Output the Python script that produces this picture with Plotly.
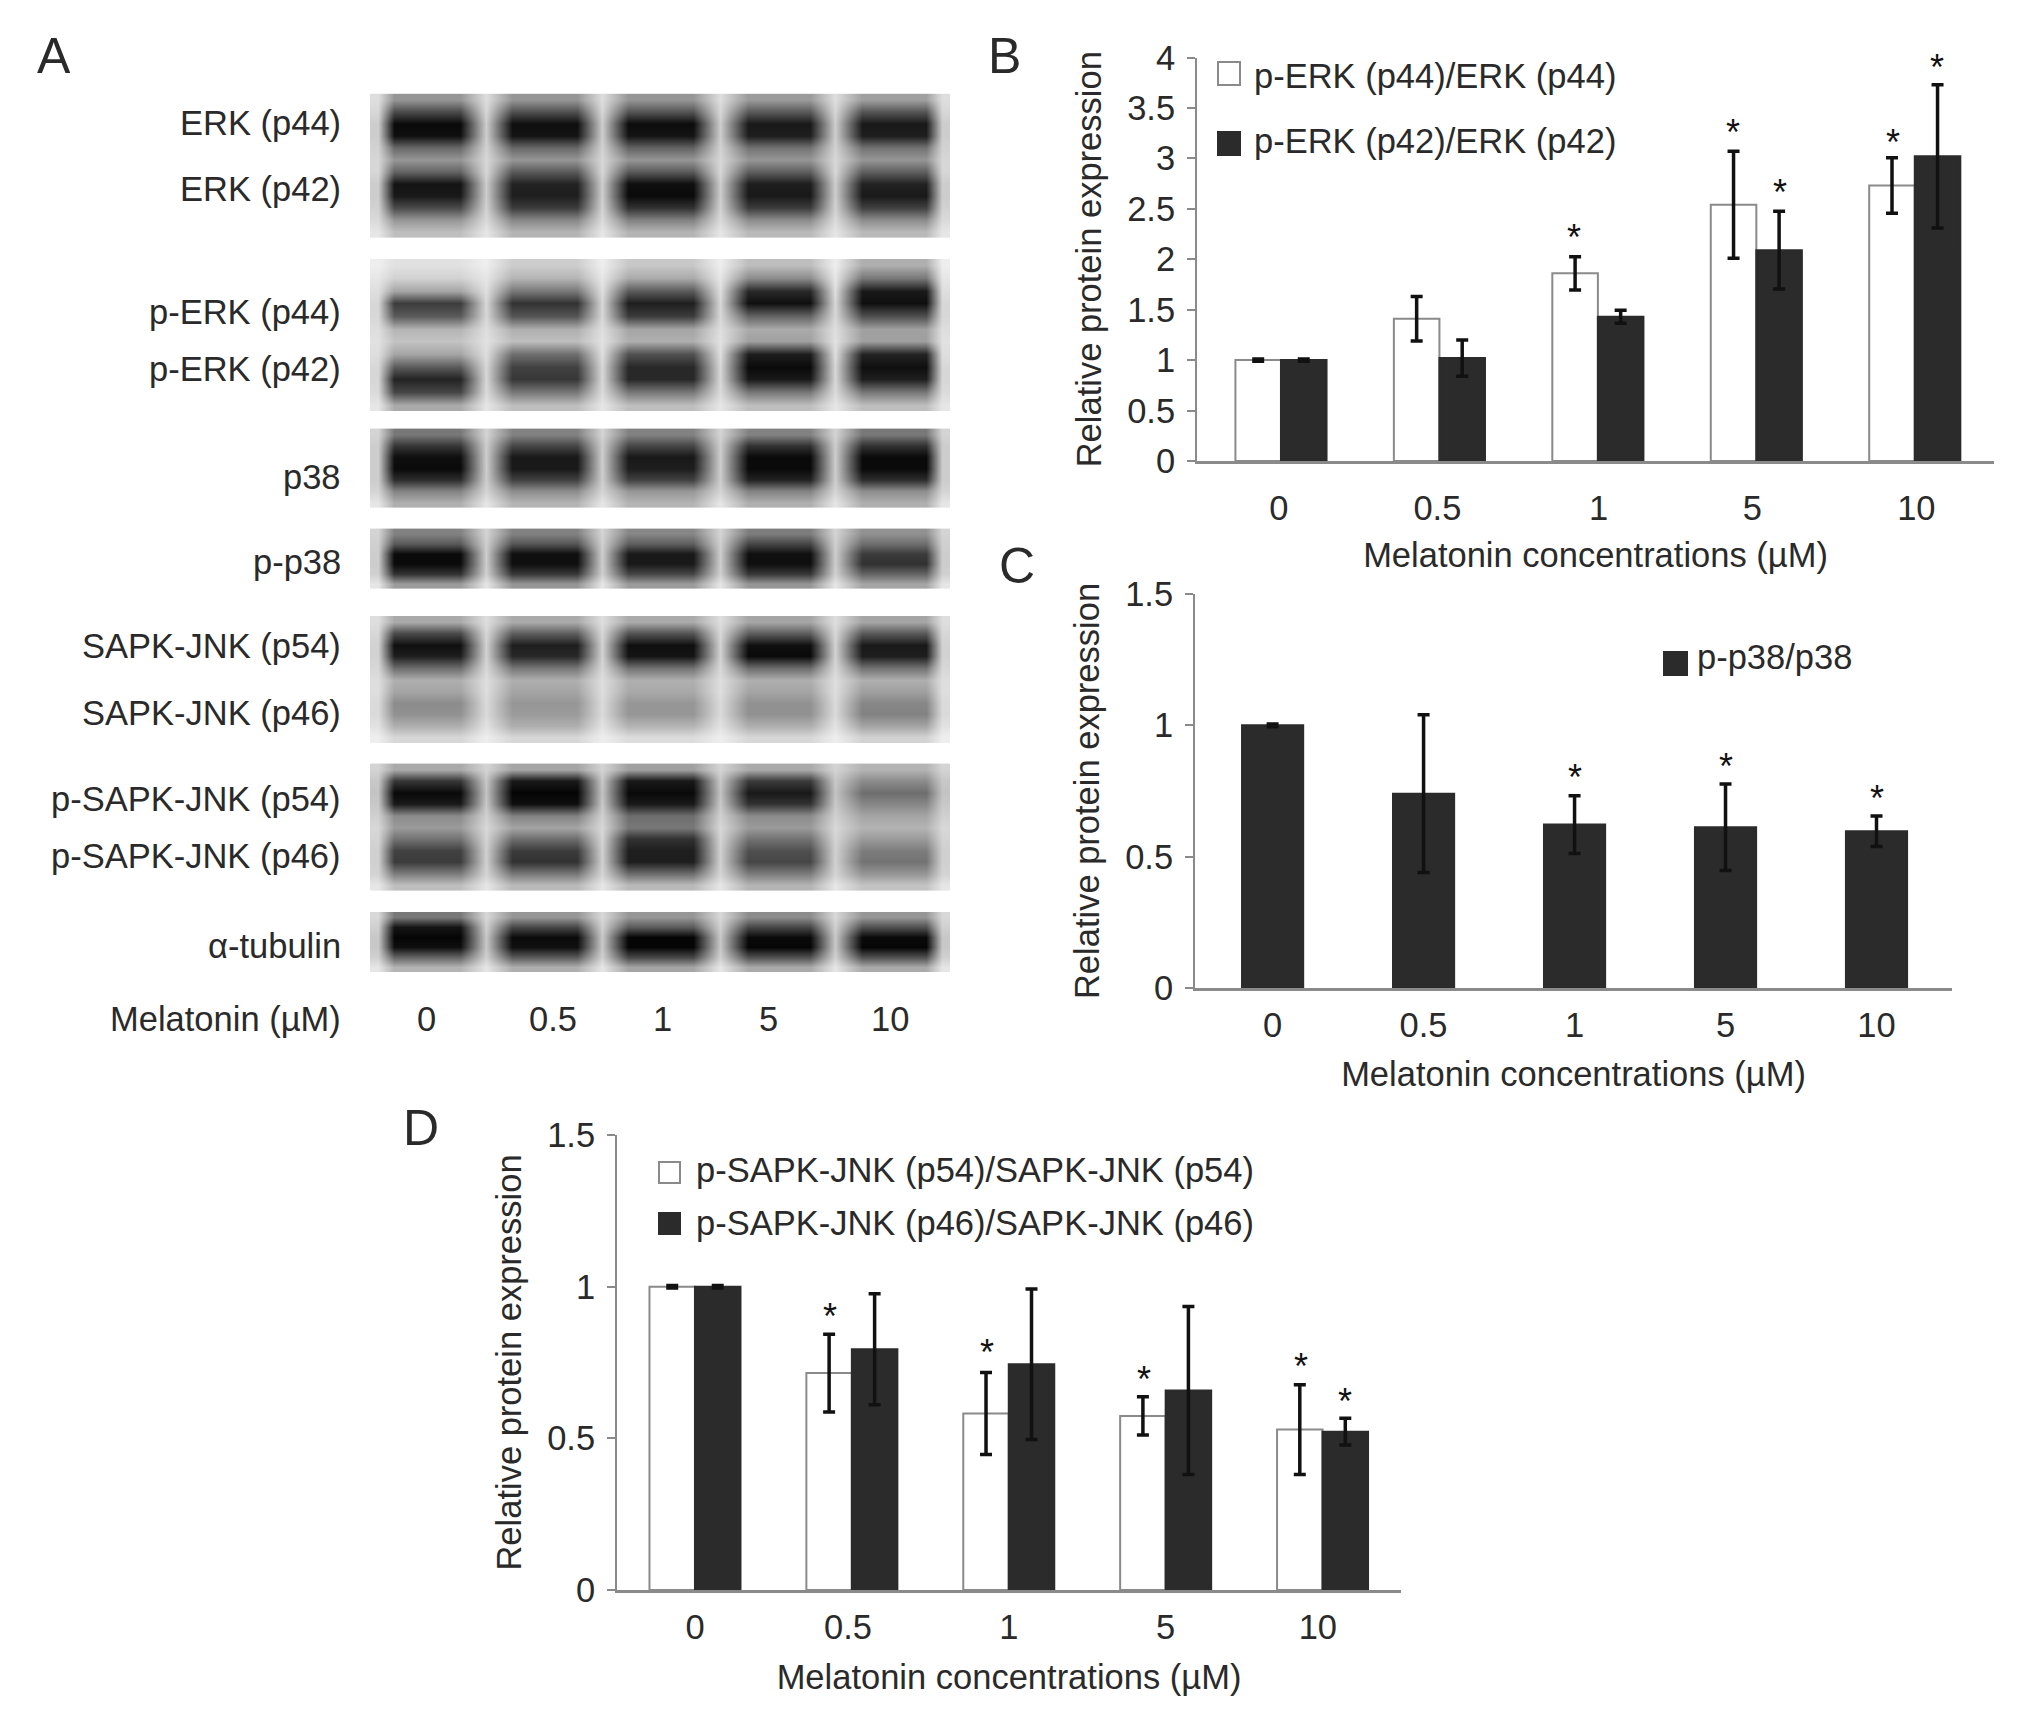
import plotly.graph_objects as go

W, H = 2031, 1734

DOSES = ["0", "0.5", "1", "5", "10"]
GROUP_POS = [0, 1, 2, 3, 4]
LABEL_POS_B = [-0.013, 0.987, 2.005, 2.975, 4.01]
LABEL_POS_C = [0, 1, 2, 3, 4]
LABEL_POS_D = [0, 0.975, 2, 3, 3.97]

# panel B
ERK44 = [1.0, 1.41, 1.86, 2.54, 2.73]
ERK44_ERR = [0.01, 0.22, 0.165, 0.53, 0.275]
ERK42 = [1.0, 1.02, 1.43, 2.09, 3.02]
ERK42_ERR = [0.01, 0.18, 0.065, 0.385, 0.71]
STARS_B_X = [1.85, 2.85, 3.15, 3.86, 4.14]
STARS_B_Y = [2.265, 3.31, 2.71, 3.21, 3.95]

# panel C
P38 = [1.0, 0.74, 0.622, 0.612, 0.597]
P38_ERR = [0.005, 0.30, 0.11, 0.165, 0.058]
STARS_C_X = [2, 3, 4]
STARS_C_Y = [0.82, 0.862, 0.74]

# panel D
JNK54 = [1.0, 0.715, 0.582, 0.574, 0.529]
JNK54_ERR = [0.004, 0.128, 0.135, 0.063, 0.148]
JNK46 = [1.0, 0.794, 0.744, 0.658, 0.522]
JNK46_ERR = [0.004, 0.183, 0.248, 0.277, 0.044]
STARS_D_X = [0.86, 1.86, 2.86, 3.86, 4.14]
STARS_D_Y = [0.918, 0.798, 0.712, 0.754, 0.637]

# blots: grey level per row, five lanes then the gap between lanes
BLOT_ERK = [
    [150, 150, 150, 155, 160, 222],
    [75, 80, 85, 90, 85, 215],
    [10, 15, 12, 25, 25, 205],
    [15, 20, 20, 30, 30, 205],
    [105, 105, 100, 115, 115, 210],
    [150, 150, 150, 150, 150, 215],
    [100, 90, 90, 95, 95, 215],
    [20, 35, 15, 30, 35, 205],
    [25, 30, 10, 25, 25, 205],
    [75, 60, 50, 60, 65, 210],
    [150, 135, 130, 140, 140, 218],
    [190, 180, 180, 185, 185, 230],
]
BLOT_PERK = [
    [225, 205, 200, 190, 175, 238],
    [210, 180, 170, 140, 120, 230],
    [165, 120, 90, 40, 25, 222],
    [60, 50, 30, 15, 15, 215],
    [90, 85, 60, 100, 80, 215],
    [180, 175, 165, 170, 160, 222],
    [195, 190, 175, 160, 160, 225],
    [165, 110, 80, 30, 35, 222],
    [90, 65, 40, 10, 15, 215],
    [35, 55, 40, 25, 30, 215],
    [70, 120, 120, 120, 120, 218],
    [170, 190, 190, 190, 190, 230],
]
BLOT_P38 = [
    [120, 130, 130, 130, 120, 212],
    [55, 70, 70, 50, 50, 205],
    [15, 25, 25, 10, 10, 205],
    [10, 25, 30, 10, 10, 205],
    [45, 65, 65, 35, 45, 205],
    [130, 140, 150, 130, 140, 212],
    [175, 180, 180, 175, 175, 230],
]
BLOT_PP38 = [
    [130, 130, 135, 125, 145, 212],
    [90, 85, 95, 70, 110, 208],
    [10, 15, 25, 15, 60, 205],
    [10, 15, 25, 15, 50, 205],
    [50, 55, 70, 55, 100, 208],
    [155, 150, 155, 150, 165, 230],
]
BLOT_JNK = [
    [170, 170, 170, 165, 165, 222],
    [75, 95, 85, 95, 90, 215],
    [15, 30, 15, 15, 25, 210],
    [30, 40, 20, 10, 30, 210],
    [110, 120, 115, 110, 115, 215],
    [175, 175, 175, 175, 175, 222],
    [165, 165, 170, 165, 160, 222],
    [140, 150, 150, 145, 135, 218],
    [145, 155, 150, 145, 130, 218],
    [175, 175, 180, 175, 165, 226],
    [215, 215, 220, 215, 210, 238],
]
BLOT_PJNK = [
    [170, 165, 160, 170, 180, 212],
    [55, 25, 25, 60, 140, 200],
    [10, 5, 10, 25, 110, 195],
    [25, 15, 25, 50, 135, 200],
    [140, 130, 110, 140, 165, 208],
    [155, 165, 120, 155, 180, 216],
    [115, 110, 50, 115, 155, 212],
    [65, 60, 30, 80, 125, 208],
    [60, 50, 30, 70, 115, 208],
    [125, 120, 110, 125, 150, 212],
    [190, 185, 185, 180, 195, 230],
]
BLOT_TUB = [
    [120, 150, 150, 140, 150, 216],
    [20, 70, 90, 70, 80, 208],
    [5, 10, 5, 10, 10, 200],
    [15, 15, 5, 5, 5, 200],
    [100, 90, 70, 80, 80, 208],
    [180, 175, 165, 170, 170, 230],
]
BLOTS = [BLOT_ERK, BLOT_PERK, BLOT_P38, BLOT_PP38, BLOT_JNK, BLOT_PJNK, BLOT_TUB]
BLOT_SPANS = [(93.6, 237.5), (259, 411), (428.6, 508), (528.6, 588.6), (616, 743), (763.6, 890.7), (912, 972)]
BLOT_COLS = [378, 394, 460, 486, 512, 577, 602, 628, 693, 720, 748, 810, 835, 862, 926, 942]

BLOT_LABELS = [
    ("ERK (p44)", 123), ("ERK (p42)", 189), ("p-ERK (p44)", 312), ("p-ERK (p42)", 369),
    ("p38", 477), ("p-p38", 562), ("SAPK-JNK (p54)", 646), ("SAPK-JNK (p46)", 713),
    ("p-SAPK-JNK (p54)", 799), ("p-SAPK-JNK (p46)", 856), ("α-tubulin", 946), ("Melatonin (µM)", 1019),
]
BLOT_DOSE_X = [426, 553, 662, 768, 890]

FONT = "Liberation Sans"
TEXT = "#2a2a2a"
AXIS = "#8a8a8a"
DARK = "#2b2b2b"
TEXT_SIZE = 34.5


def px_x(v):
    return v / W


def px_y(v):
    return 1 - v / H


def bars(pos, vals, errs, name, fill, xa, ya, width, offset):
    return go.Bar(
        x=pos, y=vals, name=name, xaxis=xa, yaxis=ya, width=width, offset=offset,
        marker=dict(color=fill, line=dict(color=AXIS if fill == "white" else DARK, width=2)),
        error_y=dict(type="data", array=errs, color="#111111", thickness=3.5, width=6),
        showlegend=False,
    )


fig = go.Figure()

fig.add_trace(bars(GROUP_POS, ERK44, ERK44_ERR, "p-ERK (p44)/ERK (p44)", "white", "x", "y", 0.2875, -0.2875))
fig.add_trace(bars(GROUP_POS, ERK42, ERK42_ERR, "p-ERK (p42)/ERK (p42)", DARK, "x", "y", 0.2875, 0))
fig.add_trace(bars(GROUP_POS, P38, P38_ERR, "p-p38/p38", DARK, "x2", "y2", 0.405, -0.2025))
fig.add_trace(bars(GROUP_POS, JNK54, JNK54_ERR, "p-SAPK-JNK (p54)/SAPK-JNK (p54)", "white", "x3", "y3", 0.29, -0.29))
fig.add_trace(bars(GROUP_POS, JNK46, JNK46_ERR, "p-SAPK-JNK (p46)/SAPK-JNK (p46)", DARK, "x3", "y3", 0.29, 0))

for rows, (top, bottom) in zip(BLOTS, BLOT_SPANS):
    step = (bottom - top) / len(rows)
    z = []
    for row in rows:
        gap = row[5]
        z.append([gap, row[0], row[0], gap, row[1], row[1], gap, row[2], row[2], gap,
                  row[3], row[3], gap, row[4], row[4], gap])
    fig.add_trace(go.Heatmap(
        x=BLOT_COLS, y=[top + step * (i + 0.5) for i in range(len(rows))], z=z,
        xaxis="x4", yaxis="y4", zmin=0, zmax=255, zsmooth="best", showscale=False,
        colorscale=[[0, "black"], [1, "white"]], hoverinfo="skip",
    ))


def panel_axes(suffix, x_left, x_right, y_top, y_bottom, xr, yr, label_pos, label_gap, title_gap):
    xa = dict(
        anchor="y" + suffix, automargin=False,
        domain=[px_x(x_left), px_x(x_right)], range=xr, tickmode="array", tickvals=label_pos, ticktext=DOSES,
        ticks="", showgrid=False, zeroline=False, showline=True, linecolor=AXIS, linewidth=3,
        tickfont=dict(family=FONT, size=TEXT_SIZE, color=TEXT), ticklabelstandoff=label_gap,
        title=dict(text="Melatonin concentrations (µM)", font=dict(family=FONT, size=TEXT_SIZE, color=TEXT), standoff=title_gap),
    )
    ya = dict(
        anchor="x" + suffix, automargin=False,
        domain=[px_y(y_bottom), px_y(y_top)], range=yr, dtick=0.5,
        ticks="outside", ticklen=8, tickwidth=2, tickcolor=AXIS, showgrid=False, zeroline=False,
        showline=True, linecolor=AXIS, linewidth=2, ticklabelstandoff=5,
        tickfont=dict(family=FONT, size=TEXT_SIZE, color=TEXT),
        title=dict(text="Relative protein expression", font=dict(family=FONT, size=TEXT_SIZE, color=TEXT), standoff=15),
    )
    return xa, ya


xa1, ya1 = panel_axes("", 1197, 1994, 57.5, 461, [-0.53, 4.5], [0, 4], LABEL_POS_B, 15, 17)
xa2, ya2 = panel_axes("2", 1195, 1952, 594, 988, [-0.514, 4.5], [0, 1.5], LABEL_POS_C, 5, 19)
xa3, ya3 = panel_axes("3", 617, 1401, 1135, 1590, [-0.497, 4.5], [0, 1.5], LABEL_POS_D, 5, 20)

annotations = []


def note(text, x, y, size=TEXT_SIZE, anchor="left"):
    annotations.append(dict(
        text=text, xref="paper", yref="paper", x=px_x(x), y=px_y(y), xanchor=anchor, yanchor="middle",
        showarrow=False, font=dict(family=FONT, size=size, color=TEXT),
    ))


def stars(xs, ys, xref, yref):
    for sx, sy in zip(xs, ys):
        annotations.append(dict(
            text="*", x=sx, y=sy, xref=xref, yref=yref, xanchor="center", yanchor="middle", yshift=-5,
            showarrow=False, font=dict(family=FONT, size=36, color="#111111"),
        ))


stars(STARS_B_X, STARS_B_Y, "x", "y")
stars(STARS_C_X, STARS_C_Y, "x2", "y2")
stars(STARS_D_X, STARS_D_Y, "x3", "y3")

for label, y in BLOT_LABELS:
    note(label, 343, y, anchor="right")
for dose, x in zip(DOSES, BLOT_DOSE_X):
    note(dose, x, 1019, anchor="center")

for letter, x, y in [("A", 54, 56), ("B", 1004, 56), ("C", 1017, 566), ("D", 421, 1128)]:
    note(letter, x, y, size=50, anchor="center")

shapes = []


def key(x0, x1, y0, y1, fill, text, text_x, text_y):
    shapes.append(dict(
        type="rect", xref="paper", yref="paper", x0=px_x(x0), x1=px_x(x1), y0=px_y(y1), y1=px_y(y0),
        fillcolor=fill, line=dict(color=AXIS if fill == "white" else DARK, width=2),
    ))
    note(text, text_x, text_y)


key(1218, 1240, 62, 85, "white", "p-ERK (p44)/ERK (p44)", 1252, 76)
key(1218, 1240, 132, 155, DARK, "p-ERK (p42)/ERK (p42)", 1252, 141)
key(1664, 1687, 652, 675, DARK, "p-p38/p38", 1695, 657)
key(659, 680, 1162, 1183, "white", "p-SAPK-JNK (p54)/SAPK-JNK (p54)", 694, 1170)
key(659, 680, 1213, 1234, DARK, "p-SAPK-JNK (p46)/SAPK-JNK (p46)", 694, 1223)

fig.update_layout(
    width=W, height=H, margin=dict(l=0, r=0, t=0, b=0), paper_bgcolor="white", plot_bgcolor="white",
    barmode="overlay", showlegend=False,
    xaxis=xa1, yaxis=ya1, xaxis2=xa2, yaxis2=ya2, xaxis3=xa3, yaxis3=ya3,
    xaxis4=dict(domain=[px_x(370), px_x(950)], range=[370, 950], visible=False, anchor="y4"),
    yaxis4=dict(domain=[px_y(972), px_y(93.6)], range=[972, 93.6], visible=False, anchor="x4"),
    annotations=annotations, shapes=shapes,
)

fig.write_html(
    "out.html",
    config={"displayModeBar": False},
    post_script="document.body.style.margin='0';document.documentElement.style.overflow='hidden';",
)
